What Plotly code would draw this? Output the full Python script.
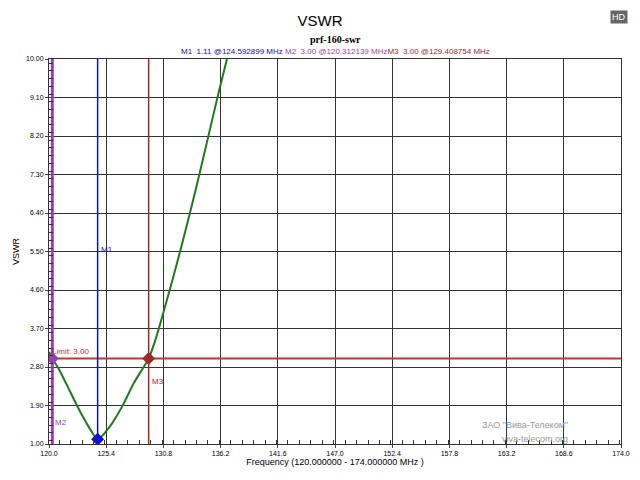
import plotly.graph_objects as go

# swept VSWR
freq = [120.0, 120.31, 121.0, 122.0, 123.0, 124.0, 124.59, 125.4, 126.0, 127.0,
        128.0, 129.41, 130.0, 131.0, 132.0, 133.0, 134.0, 135.0, 136.0, 136.8]
vswr = [3.15, 3.00, 2.72, 2.22, 1.73, 1.30, 1.11, 1.30, 1.50, 1.92,
        2.42, 3.00, 3.40, 4.25, 5.15, 6.10, 7.10, 8.15, 9.20, 10.0]

marker_names = ["M1", "M2", "M3"]
marker_freq = [124.592899, 120.312139, 129.408754]
marker_vswr = [1.11, 3.00, 3.00]
marker_colors = ["#1010d0", "#9a40b0", "#a02828"]
marker_label_y = [5.55, 1.5, 2.45]
limit = 3.0

x_ticks = [120.0 + 5.4 * i for i in range(11)]
y_ticks = [1.0 + 0.9 * i for i in range(11)]

fig = go.Figure()
fig.add_trace(go.Scatter(x=freq, y=vswr, mode="lines", line=dict(color="#1f7a1f", width=2),
                         line_shape="spline", line_smoothing=0.8, showlegend=False))

# limit line
fig.add_trace(go.Scatter(x=[120, 174], y=[limit, limit], mode="lines",
                         line=dict(color="#c83232", width=2), showlegend=False))
fig.add_annotation(x=120.1, y=limit, text="Limit: 3.00", showarrow=False, xanchor="left",
                   yanchor="bottom", font=dict(size=8, color="#c83232", family="Arial"))

for name, f, v, c, ly in zip(marker_names, marker_freq, marker_vswr, marker_colors, marker_label_y):
    fig.add_trace(go.Scatter(x=[f, f], y=[1, 10], mode="lines",
                             line=dict(color=c, width=3 if name == "M2" else 1.5), showlegend=False))
    fig.add_trace(go.Scatter(x=[f], y=[v], mode="markers",
                             marker=dict(symbol="diamond", size=10, color=c), showlegend=False))
    fig.add_annotation(x=f, y=ly, text=name, showarrow=False, xanchor="left", xshift=1,
                       font=dict(size=8, color=c, family="Arial"))

header = ("<span style='color:#1010a0'>M1  1.11 @124.592899 MHz</span> "
          "<span style='color:#9a40b0'>M2  3.00 @120.312139 MHz</span>"
          "<span style='color:#a02828'>M3  3.00 @129.408754 MHz</span>")
fig.add_annotation(x=0.5, y=1.0, xref="paper", yref="paper", yanchor="bottom", yshift=1,
                   text=header, showarrow=False, font=dict(size=8, family="Arial"))
fig.add_annotation(x=0.5, y=1.07, xref="paper", yref="paper", text="<b>prf-160-swr</b>",
                   showarrow=False, font=dict(size=10, family="Times New Roman, Liberation Serif"))
fig.add_annotation(x=1.012, y=1.127, xref="paper", yref="paper", text="HD", showarrow=False,
                   bgcolor="#666666", font=dict(size=9, color="white", family="Arial"))
fig.add_annotation(x=0.91, y=0.031, xref="paper", yref="paper", text="ЗАО \"Вива-Телеком\"",
                   showarrow=False, font=dict(size=9, color="#9a9a9a", family="Arial"))
fig.add_annotation(x=0.91, y=-0.004, xref="paper", yref="paper", text="viva-telecom.org",
                   showarrow=False, font=dict(size=9, color="#9a9a9a", family="Arial"))

fig.update_layout(
    width=624, height=464,
    margin=dict(l=41, r=11, t=51, b=28, autoexpand=False),
    paper_bgcolor="white", plot_bgcolor="white",
    title=dict(text="VSWR", x=0.5, y=0.972, yanchor="middle",
               font=dict(size=15, family="Arial", color="black")),
    font=dict(family="Arial", size=7, color="black"),
)
fig.update_xaxes(range=[120, 174], tickvals=x_ticks, ticktext=[f"{t:.1f}" for t in x_ticks],
                 showgrid=True, gridcolor="#333333", gridwidth=1, linecolor="#333333", mirror=True,
                 ticks="outside", ticklen=3, automargin=False,
                 minor=dict(dtick=1.08, ticks="inside", ticklen=4, tickcolor="#333"),
                 title=dict(text="Frequency (120.000000 - 174.000000 MHz )", font=dict(size=9), standoff=2),
                 zeroline=False)
fig.update_yaxes(range=[1, 10], tickvals=y_ticks, ticktext=[f"{t:.2f}" for t in y_ticks],
                 showgrid=True, gridcolor="#333333", gridwidth=1, linecolor="#333333", mirror=True,
                 ticks="outside", ticklen=3, automargin=False,
                 minor=dict(dtick=0.18, ticks="inside", ticklen=4, tickcolor="#333"),
                 title=dict(text="VSWR", font=dict(size=9), standoff=4), zeroline=False)

fig.write_html("out.html")
